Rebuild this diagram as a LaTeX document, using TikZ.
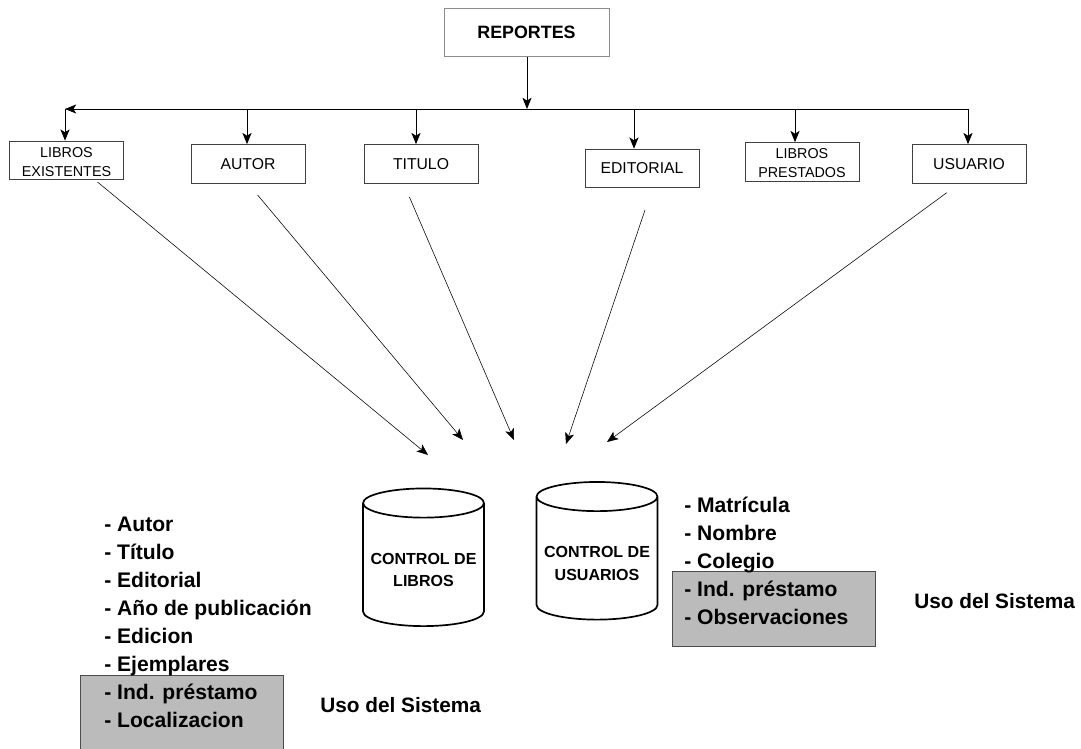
\documentclass[tikz,border=0pt]{standalone}
\usepackage{fontspec}
\setmainfont{Liberation Sans}
\usepackage{tikz}
\usetikzlibrary{shapes.geometric,positioning,arrows.meta}
\definecolor{gris}{HTML}{BBBBBB}
\tikzset{caja/.style={rectangle,draw=black!75,line width=0.6pt,minimum width=2.85cm,minimum height=0.97cm,inner sep=0pt,align=center,font=\fontsize{11.2}{13.7}\selectfont}}
\tikzset{chica/.style={caja,font=\fontsize{10.2}{13.5}\selectfont}}
\tikzset{cil/.style={cylinder,shape border rotate=90,draw,line width=1.2pt,aspect=0.275,minimum width=3.02cm,minimum height=3.44cm,inner sep=0pt,align=center,font=\bfseries\fontsize{11.4}{15.9}\selectfont}}
\tikzset{lista/.style={anchor=north west,align=left,inner sep=0pt,font=\bfseries\fontsize{15}{19.9}\selectfont}}
\tikzset{uso/.style={inner sep=0pt,font=\bfseries\fontsize{14.8}{18}\selectfont}}
\tikzset{fondo/.style={rectangle,draw=black!70,fill=gris,line width=0.5pt,minimum width=5.08cm,inner sep=0pt}}

\begin{document}
\begin{tikzpicture}[>={Stealth[length=8pt,width=6.5pt,inset=2pt]},x=0.025cm,y=-0.025cm]
        \useasboundingbox (0,0) rectangle (1081,749);

        \node[caja,draw=black!45,minimum width=4.12cm,minimum height=1.18cm,font=\bfseries\fontsize{12.7}{15}\selectfont] (r) at (526.5,32.5) {REPORTES};
        \node[chica] (a) at (66.5,160.5) {\rule{0pt}{10pt}LIBROS\\EXISTENTES};
        \node[caja] (b) at (248,164) {AUTOR};
        \node[caja] (c) at (421,164) {TITULO};
        \node[caja] (d) at (642,168.5) {EDITORIAL};
        \node[chica] (e) at (802,162) {\rule{0pt}{9pt}LIBROS\\PRESTADOS};
        \node[caja] (f) at (969,164) {USUARIO};

        \node[cil] (l) at (423.5,565) {\rule{0pt}{15pt}CONTROL DE\\LIBROS};
        \node[cil] (u) at (597,558.5) {\rule{0pt}{15pt}CONTROL DE\\USUARIOS};

        \node[fondo,minimum height=1.9cm] (g1) at (181.5,713.5) {};
        \node[fondo,minimum height=1.875cm] (g2) at (774,608.5) {};

        \node[lista] (m1) at (104,517) {- Autor\\- Título\\- Editorial\\- Año de publicación\\- Edicion\\- Ejemplares\\- Ind. préstamo\\- Localizacion};
        \node[lista] (m2) at (684,497) {- Matrícula\\- Nombre\\- Colegio\\- Ind. préstamo\\- Observaciones};
        \node[uso,anchor=west] (s1) at (320,705) {Uso del Sistema};
        \node[uso,anchor=west] (s2) at (914,601) {Uso del Sistema};

        \coordinate (t) at (527,109);
        \coordinate (ta) at (65,109);
        \coordinate (tb) at (247,109);
        \coordinate (tc) at (416,109);
        \coordinate (td) at (634,109);
        \coordinate (te) at (795,109);
        \coordinate (tf) at (968,109);

        \draw [->,line width=0.7pt] (r.south -| t) to (t);
        \draw [->,line width=0.7pt] (tf) to (ta);
        \draw [->,line width=0.7pt] (ta) to (ta |- a.north);
        \draw [->,line width=0.7pt] (tb) to (tb |- b.north);
        \draw [->,line width=0.7pt] (tc) to (tc |- c.north);
        \draw [->,line width=0.7pt] (td) to (td |- d.north);
        \draw [->,line width=0.7pt] (te) to (te |- e.north);
        \draw [->,line width=0.7pt] (tf) to (tf |- f.north);

        \coordinate (pa) at (97.5,182);
        \coordinate (pb) at (257.6,195);
        \coordinate (pc) at (409.4,197);
        \coordinate (pd) at (645,210);
        \coordinate (pf) at (946.7,192.7);
        \coordinate (qa) at (428,455);
        \coordinate (qb) at (463,440);
        \coordinate (qc) at (514,440);
        \coordinate (qd) at (566,444);
        \coordinate (qf) at (607,442);

        \draw [->] (pa) to (qa);
        \draw [->] (pb) to (qb);
        \draw [->] (pc) to (qc);
        \draw [->] (pd) to (qd);
        \draw [->] (pf) to (qf);
    \end{tikzpicture}
\end{document}
